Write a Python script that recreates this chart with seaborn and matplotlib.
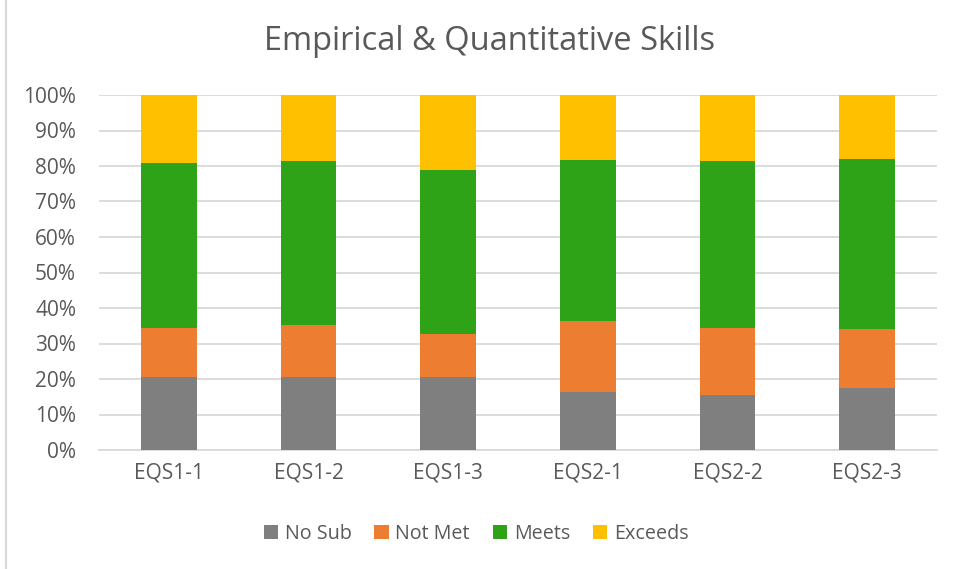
import matplotlib
matplotlib.use("Agg")
import matplotlib.pyplot as plt
import seaborn as sns
import pandas as pd
import numpy as np
from matplotlib.patches import Patch
from matplotlib.lines import Line2D
from matplotlib.ticker import PercentFormatter

categories = ["EQS1-1", "EQS1-2", "EQS1-3", "EQS2-1", "EQS2-2", "EQS2-3"]
no_sub = [20.5, 20.7, 20.7, 16.4, 15.6, 17.5]
not_met = [13.8, 14.6, 11.9, 19.8, 18.7, 16.5]
meets = [46.5, 46.0, 46.4, 45.6, 47.0, 48.1]
exceeds = [19.2, 18.7, 21.0, 18.2, 18.7, 17.9]

series_names = ["No Sub", "Not Met", "Meets", "Exceeds"]
series_vals = [no_sub, not_met, meets, exceeds]
colors = ["#7f7f7f", "#ed7d31", "#2fa317", "#ffc000"]
text_color = "#595959"
grid_color = "#d9d9d9"

sns.set_theme(style="white")
plt.rcParams["font.family"] = ["Open Sans", "DejaVu Sans"]

df = pd.DataFrame({"category": categories})
cum = np.zeros(len(categories))
for name, vals in zip(series_names, series_vals):
    cum = cum + np.array(vals)
    df[name] = cum

fig = plt.figure(figsize=(9.55, 5.69), dpi=100)
ax = fig.add_axes([99 / 955, 1 - 450 / 569, 838 / 955, 355 / 569])

# draw cumulative totals from the top series down so they stack
for name, col in reversed(list(zip(series_names, colors))):
    sns.barplot(data=df, x="category", y=name, color=col, width=0.4,
                saturation=1, ax=ax, zorder=3, edgecolor="none")

ax.set_ylim(0, 100)
ax.set_xlim(-0.5, 5.5)
ax.set_yticks(np.arange(0, 101, 10))
ax.yaxis.set_major_formatter(PercentFormatter(decimals=0))
ax.grid(axis="y", color=grid_color, linewidth=1.3, zorder=0)
ax.set_axisbelow(True)
for s in ["top", "right", "left"]:
    ax.spines[s].set_visible(False)
ax.spines["bottom"].set_color(grid_color)
ax.spines["bottom"].set_linewidth(1.3)
ax.set_xlabel("")
ax.set_ylabel("")
ax.tick_params(axis="both", length=0, labelsize=15, colors=text_color)
ax.tick_params(axis="y", pad=16.5)
ax.tick_params(axis="x", pad=9)

fig.text(490 / 955, 1 - 41 / 569, "Empirical & Quantitative Skills",
         ha="center", va="center", fontsize=23.5, color=text_color)

handles = [Patch(facecolor=c, edgecolor="none", label=n) for n, c in zip(series_names, colors)]
fig.legend(handles=handles, loc="center", bbox_to_anchor=(476 / 955, 1 - 534 / 569),
           ncol=4, frameon=False, fontsize=14.2, labelcolor=text_color,
           handlelength=0.72, handleheight=0.72, handletextpad=0.35, columnspacing=1.15)

fig.add_artist(Line2D([5.5 / 955, 5.5 / 955], [0, 1], transform=fig.transFigure,
                      color=grid_color, linewidth=1.5))

fig.savefig("out.png", dpi=100)
